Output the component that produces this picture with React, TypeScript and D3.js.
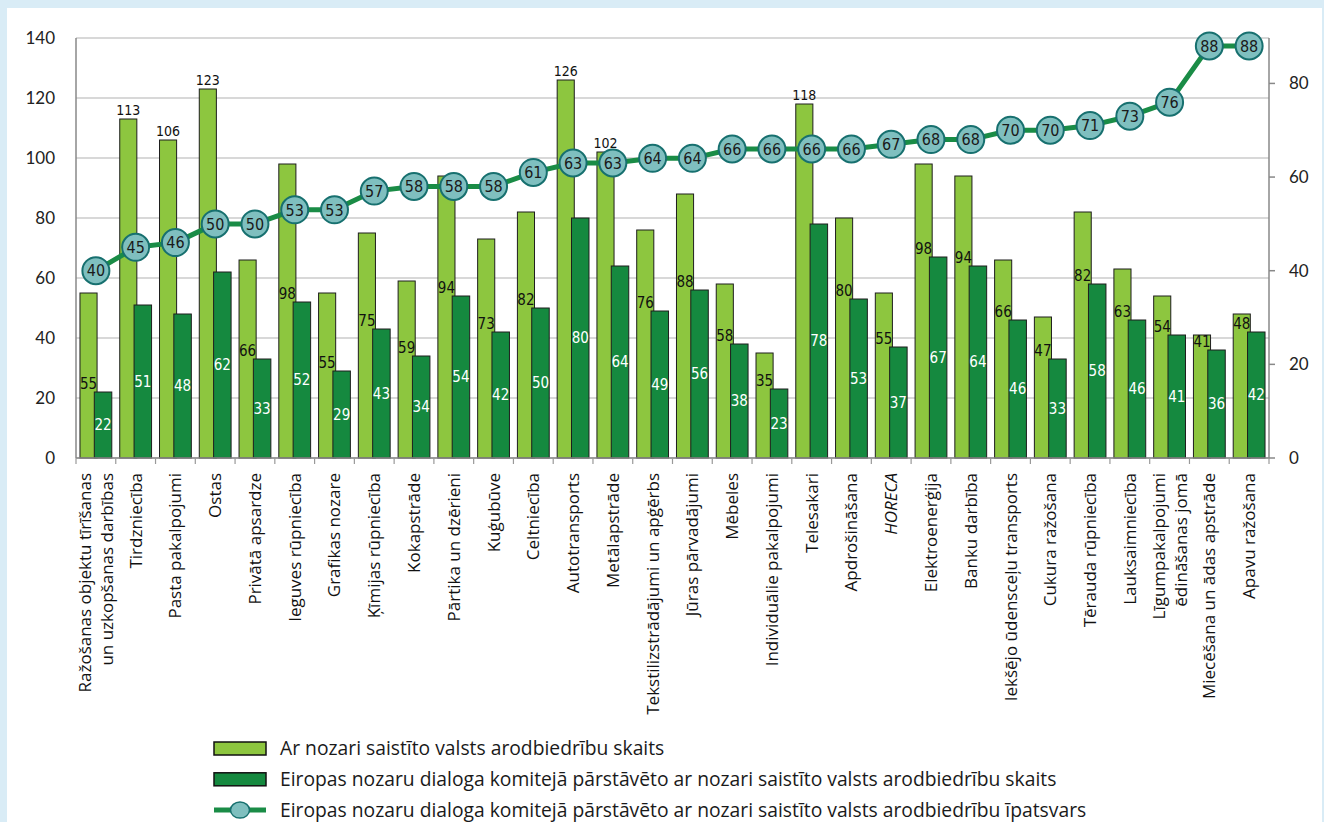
import { useMemo } from "react";
import { scaleBand, scaleLinear, line } from "d3";

const categories = [
	"Ražošanas objektu tīrīšanas\nun uzkopšanas darbības",
	"Tirdzniecība",
	"Pasta pakalpojumi",
	"Ostas",
	"Privātā apsardze",
	"Ieguves rūpniecība",
	"Grafikas nozare",
	"Ķīmijas rūpniecība",
	"Kokapstrāde",
	"Pārtika un dzērieni",
	"Kuģubūve",
	"Celtniecība",
	"Autotransports",
	"Metālapstrāde",
	"Tekstilizstrādājumi un apģērbs",
	"Jūras pārvadājumi",
	"Mēbeles",
	"Individuālie pakalpojumi",
	"Telesakari",
	"Apdrošināšana",
	"HORECA",
	"Elektroenerģija",
	"Banku darbība",
	"Iekšējo ūdensceļu transports",
	"Cukura ražošana",
	"Tērauda rūpniecība",
	"Lauksaimniecība",
	"Līgumpakalpojumi\nēdināšanas jomā",
	"Miecēšana un ādas apstrāde",
	"Apavu ražošana",
];

const allUnions = [55, 113, 106, 123, 66, 98, 55, 75, 59, 94, 73, 82, 126, 102, 76, 88, 58, 35, 118, 80, 55, 98, 94, 66, 47, 82, 63, 54, 41, 48];
const euUnions = [22, 51, 48, 62, 33, 52, 29, 43, 34, 54, 42, 50, 80, 64, 49, 56, 38, 23, 78, 53, 37, 67, 64, 46, 33, 58, 46, 41, 36, 42];
const share = [40, 45, 46, 50, 50, 53, 53, 57, 58, 58, 58, 61, 63, 63, 64, 64, 66, 66, 66, 66, 67, 68, 68, 70, 70, 71, 73, 76, 88, 88];

const leftTicks = [0, 20, 40, 60, 80, 100, 120, 140];
const rightTicks = [0, 20, 40, 60, 80];

const legendLabels = [
	"Ar nozari saistīto valsts arodbiedrību skaits",
	"Eiropas nozaru dialoga komitejā pārstāvēto ar nozari saistīto valsts arodbiedrību skaits",
	"Eiropas nozaru dialoga komitejā pārstāvēto ar nozari saistīto valsts arodbiedrību īpatsvars",
];

const W = 1324;
const H = 822;
const LIGHT = "#8dc63f";
const DARK = "#15893f";
const LINE = "#1a8c46";
const DOT = "#7fbfbf";
const DOT_STROKE = "#17706f";
const GRID = "#cbcbcb";
const labelFont = "'DejaVu Sans Condensed', 'DejaVu Sans', sans-serif";
const axisFont = "Lato, sans-serif";

export default function App() {
	const margin = { left: 76, right: 1269, top: 38, bottom: 458 };

	const x = useMemo(
		() => scaleBand<string>().domain(categories).range([margin.left, margin.right]),
		[]
	);
	const yLeft = scaleLinear().domain([0, 140]).range([margin.bottom, margin.top]);
	const yRight = scaleLinear().domain([0, 89.7]).range([margin.bottom, margin.top]);
	const bw = x.bandwidth();
	const cx = (i: number) => (x(categories[i]) ?? 0) + bw / 2;

	const path = line<number>()
		.x((_, i) => cx(i))
		.y((d) => yRight(d))(share);

	return (
		<svg
			width={W}
			height={H}
			style={{ position: "absolute", left: 0, top: 0, background: "#d9ecf6" }}
		>
			<rect x={7} y={8} width={W - 9} height={H - 8} fill="#fff" />

			{/* grid */}
			{leftTicks.map((t) => (
				<line
					key={t}
					x1={margin.left}
					x2={margin.right}
					y1={yLeft(t)}
					y2={yLeft(t)}
					stroke={GRID}
					strokeWidth={1.5}
				/>
			))}
			{leftTicks.map((t) => (
				<text
					key={t}
					x={55}
					y={yLeft(t)}
					dy="0.35em"
					textAnchor="end"
					fontFamily={axisFont}
					fontSize={17}
					fill="#222"
				>
					{t}
				</text>
			))}

			{/* bars */}
			{categories.map((c, i) => {
				const x0 = x(c) ?? 0;
				return (
					<g key={c}>
						<rect
							x={x0 + bw * 0.1}
							y={yLeft(allUnions[i])}
							width={bw * 0.43}
							height={margin.bottom - yLeft(allUnions[i])}
							fill={LIGHT}
							stroke="#1e1e1e"
							strokeWidth={1}
						/>
						<rect
							x={x0 + bw * 0.46}
							y={yLeft(euUnions[i])}
							width={bw * 0.44}
							height={margin.bottom - yLeft(euUnions[i])}
							fill={DARK}
							stroke="#1e1e1e"
							strokeWidth={1}
						/>
					</g>
				);
			})}

			{/* axes */}
			<line x1={margin.left} x2={margin.left} y1={margin.top} y2={margin.bottom} stroke="#888" strokeWidth={1.5} />
			<line x1={margin.right} x2={margin.right} y1={margin.top} y2={margin.bottom} stroke="#888" strokeWidth={1.5} />
			<line x1={margin.left} x2={margin.right} y1={margin.bottom} y2={margin.bottom} stroke="#888" strokeWidth={1.5} />
			{categories.map((c) => (
				<line
					key={c}
					x1={x(c) ?? 0}
					x2={x(c) ?? 0}
					y1={margin.bottom}
					y2={margin.bottom + 6}
					stroke="#999"
					strokeWidth={1.2}
				/>
			))}
			<line x1={margin.right} x2={margin.right} y1={margin.bottom} y2={margin.bottom + 6} stroke="#999" strokeWidth={1.2} />
			{rightTicks.map((t) => (
				<g key={t}>
					<line x1={margin.right} x2={margin.right + 6} y1={yRight(t)} y2={yRight(t)} stroke="#888" strokeWidth={1.5} />
					<text
						x={1289}
						y={yRight(t)}
						dy="0.35em"
						fontFamily={axisFont}
						fontSize={17}
						fill="#222"
					>
						{t}
					</text>
				</g>
			))}

			{/* bar labels */}
			{categories.map((c, i) => {
				const x0 = x(c) ?? 0;
				const lx = x0 + bw * 0.1 + (bw * 0.43) / 2;
				const dx = x0 + bw * 0.46 + (bw * 0.44) / 2;
				const big = allUnions[i] > 100;
				return (
					<g key={c} fontFamily={labelFont} fontSize={15} textAnchor="middle">
						<text
							x={lx}
							y={big ? yLeft(allUnions[i]) - 4 : yLeft(euUnions[i]) - 3}
							fill="#111"
							fontSize={big ? 14 : 15}
						>
							{allUnions[i]}
						</text>
						<text
							x={dx}
							y={yLeft(euUnions[i] / 2)}
							dy="0.35em"
							fill="#fff"
						>
							{euUnions[i]}
						</text>
					</g>
				);
			})}

			{/* share line */}
			<path d={path ?? ""} fill="none" stroke={LINE} strokeWidth={5} strokeLinejoin="round" />
			{share.map((v, i) => (
				<g key={i}>
					<circle cx={cx(i)} cy={yRight(v)} r={13.5} fill={DOT} stroke={DOT_STROKE} strokeWidth={2} />
					<text
						x={cx(i)}
						y={yRight(v)}
						dy="0.36em"
						textAnchor="middle"
						fontFamily={labelFont}
						fontSize={16}
						fill="#1a1a1a"
					>
						{v}
					</text>
				</g>
			))}

			{/* category labels */}
			{categories.map((c) => {
				const lines = c.split("\n");
				const mid = (x(c) ?? 0) + bw / 2;
				return (
					<text
						key={c}
						transform={`translate(${mid},473) rotate(-90)`}
						textAnchor="end"
						fontFamily="'Open Sans', sans-serif"
						fontSize={17}
						fontStyle={c === "HORECA" ? "italic" : "normal"}
						fill="#111"
					>
						{lines.map((l, k) => (
							<tspan key={k} x={0} y={(k - (lines.length - 1) / 2) * 22 + 6}>
								{l}
							</tspan>
						))}
					</text>
				);
			})}

			{/* legend */}
			{legendLabels.map((l, k) => {
				const cy = 748.5 + k * 30.8;
				return (
					<g key={l}>
						{k < 2 ? (
							<rect
								x={214}
								y={cy - 6.5}
								width={52}
								height={13}
								fill={k === 0 ? LIGHT : DARK}
								stroke="#111"
								strokeWidth={1.5}
							/>
						) : (
							<g>
								<line x1={214} x2={266} y1={cy} y2={cy} stroke={LINE} strokeWidth={5} />
								<ellipse cx={240} cy={cy} rx={9.5} ry={8} fill={DOT} stroke={DOT_STROKE} strokeWidth={1.5} />
							</g>
						)}
						<text x={280} y={cy} dy="0.35em" fontFamily="'Open Sans', sans-serif" fontSize={19.3} fill="#1a1a1a">
							{l}
						</text>
					</g>
				);
			})}
		</svg>
	);
}
